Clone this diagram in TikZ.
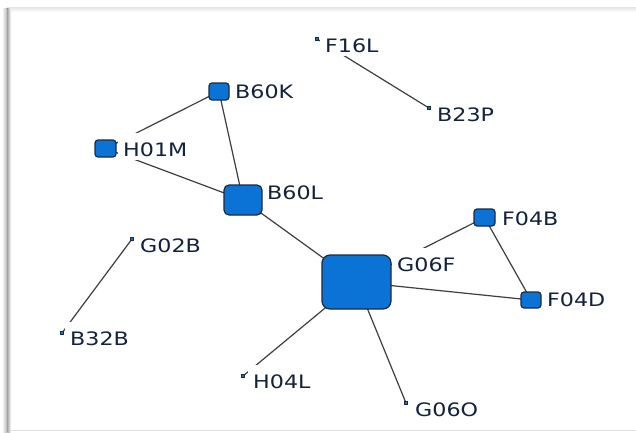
\documentclass[tikz,border=0pt]{standalone}
\usepackage{fontspec}
\newfontfamily\labfont[FakeStretch=1.2]{DejaVu Sans}
\definecolor{nodeblue}{HTML}{0B72D6}
\definecolor{nodeborder}{HTML}{1C2A3C}
\definecolor{edgecol}{HTML}{3E3E3E}
\definecolor{labcol}{HTML}{14213A}
\begin{document}
\begin{tikzpicture}[x=1pt,y=-1pt,
  vert/.style={draw=nodeborder, fill=nodeblue, line width=1.2pt, inner sep=0pt, rounded corners=3pt},
  dot/.style={draw=nodeborder, fill=nodeblue, line width=1pt, inner sep=0pt, minimum size=3.5pt},
  lab/.style={anchor=base west, fill=white, inner xsep=0.5pt, inner ysep=0pt, text height=23.5pt, text depth=3.5pt, font=\labfont\fontsize{18.5}{20}\selectfont, text=labcol, xshift=-5pt},
  edge/.style={draw=edgecol, line width=1.2pt}]
\useasboundingbox (0,0) rectangle (636,432);
\fill[white] (0,0) rectangle (636,432);
% window frame
\fill[top color=gray!22, bottom color=white] (7,7) rectangle (636,12);
\fill[left color=white, right color=gray!65] (2,8) rectangle (7.5,432);
\fill[left color=gray!65, right color=white] (7.5,8) rectangle (11,432);
\draw[gray!25, line width=1pt] (10,430) -- (636,430);
% node positions (named coordinates)
\coordinate (cG06F) at (356.5,282);
\coordinate (cB60L) at (243,200);
\coordinate (cB60K) at (219,91.5);
\coordinate (cH01M) at (105.5,148.5);
\coordinate (cF04B) at (484.5,217.5);
\coordinate (cF04D) at (531,300);
\coordinate (cF16L) at (317,39);
\coordinate (cB23P) at (429,108);
\coordinate (cG02B) at (132,239);
\coordinate (cB32B) at (62,333);
\coordinate (cH04L) at (243,376);
\coordinate (cG06O) at (406,403);
% edges (drawn first, behind labels and nodes)
\path[edge] (cF16L) -- (cB23P);
\path[edge] (cG02B) -- (cB32B);
\path[edge] (cH01M) -- (cB60K);
\path[edge] (cH01M) -- (cB60L);
\path[edge] (cB60K) -- (cB60L);
\path[edge] (cB60L) -- (cG06F);
\path[edge] (cG06F) -- (cF04B);
\path[edge] (cG06F) -- (cF04D);
\path[edge] (cF04B) -- (cF04D);
\path[edge] (cG06F) -- (cH04L);
\path[edge] (cG06F) -- (cG06O);
% labels
\node[lab] (lF16L) at (324.5,52) {\hspace*{5pt}F16L};
\node[lab] (lB23P) at (436.5,121) {\hspace*{5pt}B23P};
\node[lab] (lB60K) at (234.5,98) {\hspace*{5pt}B60K};
\node[lab] (lH01M) at (122.5,156) {\hspace*{5pt}H01M};
\node[lab] (lB60L) at (266.5,199.5) {\hspace*{5pt}B60L};
\node[lab] (lG02B) at (139.5,252) {\hspace*{5pt}G02B};
\node[lab] (lB32B) at (69.5,345) {\hspace*{5pt}B32B};
\node[lab] (lH04L) at (252.5,388) {\hspace*{5pt}H04L};
\node[lab] (lG06O) at (414.5,416) {\hspace*{5pt}G06O};
\node[lab] (lG06F) at (396.5,271) {\hspace*{5pt}G06F};
\node[lab] (lF04B) at (501.5,225) {\hspace*{5pt}F04B};
\node[lab] (lF04D) at (546.5,306) {\hspace*{5pt}F04D};
% nodes
\node[vert, minimum width=69pt, minimum height=54pt, rounded corners=8pt] (G06F) at (cG06F) {};
\node[vert, minimum width=38pt, minimum height=30pt, rounded corners=5pt] (B60L) at (cB60L) {};
\node[vert, minimum width=20pt, minimum height=17pt] (B60K) at (cB60K) {};
\node[vert, minimum width=21pt, minimum height=17pt] (H01M) at (cH01M) {};
\node[vert, minimum width=21pt, minimum height=17pt] (F04B) at (cF04B) {};
\node[vert, minimum width=20pt, minimum height=16pt] (F04D) at (cF04D) {};
\node[dot] (F16L) at (cF16L) {};
\node[dot] (B23P) at (cB23P) {};
\node[dot] (G02B) at (cG02B) {};
\node[dot] (B32B) at (cB32B) {};
\node[dot] (H04L) at (cH04L) {};
\node[dot] (G06O) at (cG06O) {};
\end{tikzpicture}
\end{document}
